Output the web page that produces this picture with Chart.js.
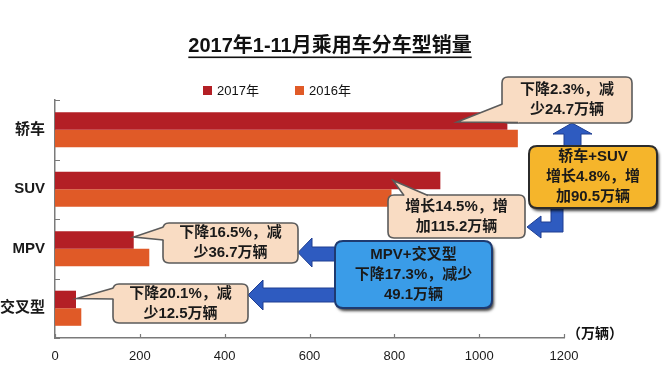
<!DOCTYPE html>
<html>
<head>
<meta charset="utf-8">
<script src="https://cdn.jsdelivr.net/npm/chart.js@4"></script>
<style>
    body { margin: 0; background: #fff; }
    #wrap { width: 670px; height: 377px; position: relative; }
</style>
</head>
<body>
<div id="wrap"><canvas id="chart"></canvas></div>
<script>
// data
const categories = ['轿车', 'SUV', 'MPV', '交叉型'];
const seriesNames = ['2017年', '2016年'];
const sales2017 = [1066.5, 908.5, 185.6, 49.5];
const sales2016 = [1091.2, 793.3, 222.3, 62.0];
const xTicks = [0, 200, 400, 600, 800, 1000, 1200];

const titleText = '2017年1-11月乘用车分车型销量';
const unitText = '（万辆）';

// callout texts (one line per entry)
const noteSedan = ['下降2.3%，减', '少24.7万辆'];
const noteSuv = ['增长14.5%，增', '加115.2万辆'];
const noteMpv = ['下降16.5%，减', '少36.7万辆'];
const noteCross = ['下降20.1%，减', '少12.5万辆'];
const noteSedanSuv = ['轿车+SUV', '增长4.8%，增', '加90.5万辆'];
const noteMpvCross = ['MPV+交叉型', '下降17.3%，减少', '49.1万辆'];

const RED = '#B31F25';
const ORANGE = '#E05A27';
const FONT = '"Liberation Sans", "Noto Sans CJK SC", sans-serif';

function roundRectPath(ctx, x, y, w, h, r) {
    ctx.beginPath();
    ctx.moveTo(x + r, y);
    ctx.lineTo(x + w - r, y);
    ctx.quadraticCurveTo(x + w, y, x + w, y + r);
    ctx.lineTo(x + w, y + h - r);
    ctx.quadraticCurveTo(x + w, y + h, x + w - r, y + h);
    ctx.lineTo(x + r, y + h);
    ctx.quadraticCurveTo(x, y + h, x, y + h - r);
    ctx.lineTo(x, y + r);
    ctx.quadraticCurveTo(x, y, x + r, y);
    ctx.closePath();
}

function drawLines(ctx, lines, cx, firstY, step, font) {
    ctx.font = font;
    ctx.fillStyle = '#1a1a1a';
    ctx.textAlign = 'center';
    ctx.textBaseline = 'middle';
    lines.forEach((t, i) => ctx.fillText(t, cx, firstY + i * step));
}

// peach speech bubble pointing at a bar
function callout(ctx, box, tip, b1, b2, lines) {
    const fill = '#F9DCC3';
    const edge = '#5b5b5b';
    ctx.save();
    roundRectPath(ctx, box.x, box.y, box.w, box.h, 6);
    ctx.fillStyle = fill;
    ctx.fill();
    ctx.lineWidth = 1.6;
    ctx.strokeStyle = edge;
    ctx.stroke();

    const cx = box.x + box.w / 2, cy = box.y + box.h / 2;
    const inward = (p) => {
        const dx = cx - p[0], dy = cy - p[1];
        const d = Math.hypot(dx, dy);
        return [p[0] + dx / d * 4, p[1] + dy / d * 4];
    };
    const i1 = inward(b1), i2 = inward(b2);
    ctx.beginPath();
    ctx.moveTo(tip[0], tip[1]);
    ctx.lineTo(b1[0], b1[1]);
    ctx.lineTo(i1[0], i1[1]);
    ctx.lineTo(i2[0], i2[1]);
    ctx.lineTo(b2[0], b2[1]);
    ctx.closePath();
    ctx.fillStyle = fill;
    ctx.fill();
    ctx.beginPath();
    ctx.moveTo(b1[0], b1[1]);
    ctx.lineTo(tip[0], tip[1]);
    ctx.lineTo(b2[0], b2[1]);
    ctx.stroke();

    drawLines(ctx, lines, cx, cy - 10, 20, 'bold 15px ' + FONT);
    ctx.restore();
}

function summaryBox(ctx, box, fill, edge, lines) {
    ctx.save();
    roundRectPath(ctx, box.x, box.y, box.w, box.h, 8);
    ctx.shadowColor = 'rgba(0,0,0,0.75)';
    ctx.shadowOffsetX = 2;
    ctx.shadowOffsetY = 3;
    ctx.shadowBlur = 3;
    ctx.fillStyle = fill;
    ctx.fill();
    ctx.shadowColor = 'transparent';
    ctx.lineWidth = 2;
    ctx.strokeStyle = edge;
    ctx.stroke();
    const step = 20;
    const first = box.y + box.h / 2 - step * (lines.length - 1) / 2;
    drawLines(ctx, lines, box.x + box.w / 2, first, step, 'bold 15px ' + FONT);
    ctx.restore();
}

function arrow(ctx, pts) {
    ctx.save();
    ctx.beginPath();
    pts.forEach((p, i) => i ? ctx.lineTo(p[0], p[1]) : ctx.moveTo(p[0], p[1]));
    ctx.closePath();
    ctx.fillStyle = '#2E5BC0';
    ctx.fill();
    ctx.lineWidth = 1;
    ctx.strokeStyle = '#1E3E92';
    ctx.stroke();
    ctx.restore();
}

const decorations = {
    id: 'decorations',
    afterDraw(chart) {
        const ctx = chart.ctx;
        const xs = chart.scales.x;
        const ys = chart.scales.y;
        const area = chart.chartArea;
        const bars = chart.getDatasetMeta(0).data;

        ctx.save();
        // title with underline
        ctx.font = 'bold 20px ' + FONT;
        ctx.fillStyle = '#111';
        ctx.textAlign = 'center';
        ctx.textBaseline = 'middle';
        ctx.fillText(titleText, 330, 46);
        const tw = ctx.measureText(titleText).width;
        ctx.fillRect(330 - tw / 2, 56.5, tw, 1.6);

        // legend
        ctx.font = '13px ' + FONT;
        ctx.textAlign = 'left';
        const legendX = [203, 295];
        chart.data.datasets.forEach((ds, i) => {
            ctx.fillStyle = ds.backgroundColor;
            ctx.fillRect(legendX[i], 86, 9, 9);
            ctx.fillStyle = '#111';
            ctx.fillText(ds.label, legendX[i] + 14, 91);
        });

        // inner tick marks
        ctx.strokeStyle = '#7a7a7a';
        ctx.lineWidth = 1.2;
        ctx.beginPath();
        xTicks.forEach(v => {
            const px = Math.round(xs.getPixelForValue(v)) + 0.5;
            ctx.moveTo(px, area.bottom);
            ctx.lineTo(px, area.bottom - 4);
        });
        for (let i = 0; i <= categories.length; i++) {
            const py = Math.round(ys.getPixelForValue(i - 0.5)) + 0.5;
            ctx.moveTo(area.left, py);
            ctx.lineTo(area.left + 5, py);
        }
        ctx.stroke();

        // unit label
        ctx.font = 'bold 14px ' + FONT;
        ctx.fillStyle = '#111';
        ctx.textAlign = 'left';
        ctx.fillText(unitText, area.right + 3, area.bottom - 4);
        ctx.restore();

        // arrows
        arrow(ctx, [[572, 123], [592, 134], [581, 134], [581, 146], [564, 146], [564, 134], [553, 134]]);
        arrow(ctx, [[563, 208], [563, 232], [541, 232], [541, 238], [527, 227], [541, 216], [541, 222], [551, 222], [551, 208]]);
        arrow(ctx, [[336, 247], [312, 247], [312, 238], [298, 252.5], [312, 267], [312, 261], [336, 261]]);
        arrow(ctx, [[336, 288], [263, 288], [263, 280], [248, 295], [263, 310], [263, 302], [336, 302]]);

        // bubbles anchored on the 2017 bars
        const tipAt = (i, v, dy) => [xs.getPixelForValue(v), bars[i].y + dy];
        callout(ctx, { x: 502, y: 77, w: 130, h: 46 }, tipAt(0, 948, 1), [502.5, 104], [518, 122.5], noteSedan);
        callout(ctx, { x: 388, y: 195, w: 137, h: 43 }, tipAt(1, 797, 0), [404, 195.5], [428, 195.5], noteSuv);
        callout(ctx, { x: 163, y: 223, w: 135, h: 40 }, tipAt(2, sales2017[2], -3), [163.5, 227], [163.5, 240], noteMpv);
        callout(ctx, { x: 113, y: 284, w: 135, h: 39 }, tipAt(3, sales2017[3] + 2, -1), [113.5, 288], [113.5, 299], noteCross);

        summaryBox(ctx, { x: 529, y: 146, w: 128, h: 62 }, '#F5B52B', '#2b2b2b', noteSedanSuv);
        summaryBox(ctx, { x: 335, y: 241, w: 157, h: 67 }, '#3A9CE8', '#1E3A70', noteMpvCross);
    }
};

new Chart(document.getElementById('chart'), {
    type: 'bar',
    data: {
        labels: categories,
        datasets: [
            { label: seriesNames[0], data: sales2017, backgroundColor: RED },
            { label: seriesNames[1], data: sales2016, backgroundColor: ORANGE }
        ]
    },
    options: {
        indexAxis: 'y',
        responsive: true,
        maintainAspectRatio: false,
        animation: false,
        datasets: {
            bar: { barPercentage: 1, categoryPercentage: 0.59 }
        },
        layout: { padding: { top: 100, right: 106, left: 0, bottom: 0 } },
        plugins: {
            legend: { display: false },
            tooltip: { enabled: false }
        },
        scales: {
            x: {
                min: 0,
                max: 1200,
                afterFit: s => { s.height = 39; },
                afterBuildTicks: s => { s.ticks = xTicks.map(v => ({ value: v })); },
                grid: { display: false, drawTicks: false },
                border: { display: true, color: '#7a7a7a', width: 1.5 },
                ticks: {
                    padding: 11,
                    color: '#1a1a1a',
                    font: { family: FONT, size: 13 },
                    callback: v => String(v)
                }
            },
            y: {
                afterFit: s => { s.width = 55; },
                grid: { display: false, drawTicks: false },
                border: { display: true, color: '#7a7a7a', width: 1.5 },
                ticks: {
                    padding: 10,
                    color: '#1a1a1a',
                    font: { family: FONT, size: 15, weight: 'bold' }
                }
            }
        }
    },
    plugins: [decorations]
});
</script>
</body>
</html>
